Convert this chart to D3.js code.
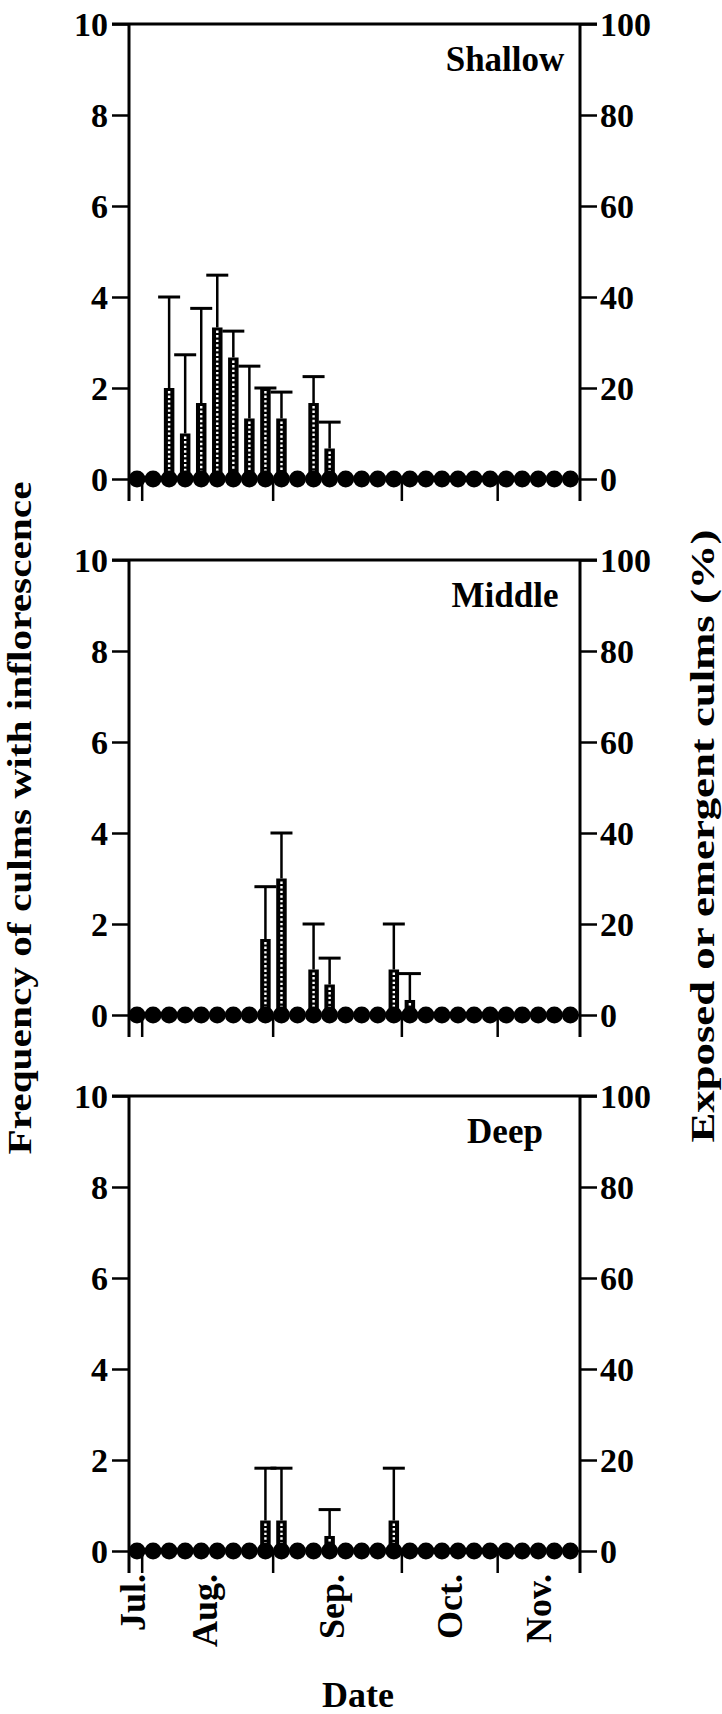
<!DOCTYPE html>
<html>
<head>
<meta charset="utf-8">
<title>inflorescence</title>
<script src="https://cdn.jsdelivr.net/npm/d3@7"></script>
<style>
    body{
        margin:0;
        background:#fff;
    }
    text{
        font-family:"Liberation Serif","Times New Roman",serif;
        font-weight:bold;
        fill:#000;
    }
</style>
</head>
<body>
<div id="chart"></div>
<script type="text/javascript">
    // sampling dates, one dot each
    var sampleIdx = d3.range(28)

    var panelNames = ["Shallow", "Middle", "Deep"]

    // frequency of culms with inflorescence (mean, sd) at sampling index
    var shallowIdx  = [2, 3, 4, 5, 6, 7, 8, 9, 11, 12]
    var shallowMean = [2, 1, 1.67, 3.33, 2.67, 1.33, 2, 1.33, 1.67, 0.67]
    var shallowSd   = [2, 1.73, 2.08, 1.15, 0.58, 1.15, 0, 0.58, 0.58, 0.58]

    var middleIdx  = [8, 9, 11, 12, 16, 17]
    var middleMean = [1.67, 3, 1, 0.67, 1, 0.33]
    var middleSd   = [1.15, 1, 1, 0.58, 1, 0.58]

    var deepIdx  = [8, 9, 12, 16]
    var deepMean = [0.67, 0.67, 0.33, 0.67]
    var deepSd   = [1.15, 1.15, 0.58, 1.15]

    // exposed or emergent culms (%)
    var shallowPct = [0,0,0,0,0,0,0,0,0,0,0,0,0,0,0,0,0,0,0,0,0,0,0,0,0,0,0,0]
    var middlePct  = [0,0,0,0,0,0,0,0,0,0,0,0,0,0,0,0,0,0,0,0,0,0,0,0,0,0,0,0]
    var deepPct    = [0,0,0,0,0,0,0,0,0,0,0,0,0,0,0,0,0,0,0,0,0,0,0,0,0,0,0,0]

    var leftTicks  = [0, 2, 4, 6, 8, 10]
    var rightTicks = [0, 20, 40, 60, 80, 100]

    // month boundaries and month label places, in sampling index units
    var monthBounds   = [0.29, 8.45, 16.47, 22.44]
    var monthLabels   = ["Jul.", "Aug.", "Sep.", "Oct.", "Nov."]
    var monthLabelPos = [0.5, 4.97, 12.87, 20.26, 25.8]

    var panels = [
        {name: panelNames[0], idx: shallowIdx, mean: shallowMean, sd: shallowSd, pct: shallowPct},
        {name: panelNames[1], idx: middleIdx, mean: middleMean, sd: middleSd, pct: middlePct},
        {name: panelNames[2], idx: deepIdx, mean: deepMean, sd: deepSd, pct: deepPct}
    ]

    var w = 722
    var h = 1714
    var left = 129
    var right = 580
    var ph = 455
    var tops = [24, 560, 1096]

    var svg = d3.select("#chart").append("svg")
        .attr("width", w)
        .attr("height", h)

    var x = d3.scaleLinear().domain([-0.5, 27.6]).range([left, right])
    var y = d3.scaleLinear().domain([0, 10]).range([ph, 0])
    var yR = d3.scaleLinear().domain([0, 100]).range([ph, 0])

    panels.forEach(function(p, k){
        var g = svg.append("g").attr("transform", "translate(0," + tops[k] + ")")

        // frame: top line and the two axes running down past zero
        g.append("line").attr("x1", 112).attr("x2", 597).attr("y1", 0).attr("y2", 0)
            .attr("stroke", "#000").attr("stroke-width", 3)
        g.append("line").attr("x1", left).attr("x2", left).attr("y1", 0).attr("y2", ph + 22)
            .attr("stroke", "#000").attr("stroke-width", 3)
        g.append("line").attr("x1", right).attr("x2", right).attr("y1", 0).attr("y2", ph + 22)
            .attr("stroke", "#000").attr("stroke-width", 3)
        g.append("line").attr("x1", left).attr("x2", right).attr("y1", ph).attr("y2", ph)
            .attr("stroke", "#000").attr("stroke-width", 2.5)

        var yAxis = d3.axisLeft(y).tickValues(leftTicks).tickSize(17).tickPadding(4)
        var ga = g.append("g").attr("transform", "translate(" + left + ",0)").call(yAxis)

        var yAxisR = d3.axisRight(yR).tickValues(rightTicks).tickSize(17).tickPadding(3)
        var gr = g.append("g").attr("transform", "translate(" + right + ",0)").call(yAxisR)

        var xAxis = d3.axisBottom(x).tickValues(monthBounds).tickSize(22).tickFormat("")
        var gx = g.append("g").attr("transform", "translate(0," + ph + ")").call(xAxis)

        ;[ga, gr, gx].forEach(function(a){
            a.select(".domain").remove()
            a.selectAll(".tick line").attr("stroke", "#000").attr("stroke-width", 2.5)
            a.selectAll(".tick text").attr("font-size", 34).attr("dy", "0.34em")
                .style("font-family", '"Liberation Serif", serif').style("font-weight", "bold")
        })

        // bars
        var bars = p.idx.map(function(d, i){ return {i: d, m: p.mean[i], s: p.sd[i]} })

        g.selectAll(".err").data(bars).enter().append("line")
            .attr("x1", function(d){ return x(d.i) })
            .attr("x2", function(d){ return x(d.i) })
            .attr("y1", function(d){ return y(d.m) })
            .attr("y2", function(d){ return y(d.m + d.s) })
            .attr("stroke", "#000").attr("stroke-width", 2.5)

        g.selectAll(".cap").data(bars).enter().append("line")
            .attr("x1", function(d){ return x(d.i) - 11 })
            .attr("x2", function(d){ return x(d.i) + 11 })
            .attr("y1", function(d){ return y(d.m + d.s) })
            .attr("y2", function(d){ return y(d.m + d.s) })
            .attr("stroke", "#000").attr("stroke-width", 3)

        g.selectAll(".bar").data(bars).enter().append("rect")
            .attr("x", function(d){ return x(d.i) - 5.25 })
            .attr("width", 10.5)
            .attr("y", function(d){ return y(d.m) })
            .attr("height", function(d){ return y(0) - y(d.m) })
            .attr("fill", "#000")

        g.selectAll(".hatch").data(bars).enter().append("line")
            .attr("x1", function(d){ return x(d.i) })
            .attr("x2", function(d){ return x(d.i) })
            .attr("y1", function(d){ return y(d.m) + 3 })
            .attr("y2", y(0))
            .attr("stroke", "#fff").attr("stroke-width", 2.4)
            .attr("stroke-dasharray", "2.4,2.2")

        // dots on the right axis scale
        g.selectAll(".dot").data(sampleIdx).enter().append("circle")
            .attr("cx", function(d){ return x(d) })
            .attr("cy", function(d){ return yR(p.pct[d]) })
            .attr("r", 8.5)
            .attr("fill", "#000")

        g.append("text").text(p.name)
            .attr("x", 505).attr("y", 47)
            .attr("text-anchor", "middle")
            .attr("font-size", 35)
    })

    // month labels under bottom panel
    svg.selectAll(".month").data(monthLabels).enter().append("text")
        .text(function(d){ return d })
        .attr("transform", function(d, i){ return "translate(" + x(monthLabelPos[i]) + ",1574) rotate(-90)" })
        .attr("text-anchor", "end")
        .attr("font-size", 36)

    svg.append("text").text("Date")
        .attr("x", 358).attr("y", 1707)
        .attr("text-anchor", "middle")
        .attr("font-size", 36)

    svg.append("text").text("Frequency of culms with inflorescence")
        .attr("transform", "translate(31,818) rotate(-90)")
        .attr("text-anchor", "middle")
        .attr("font-size", 34)
        .attr("textLength", 673).attr("lengthAdjust", "spacingAndGlyphs")

    svg.append("text").text("Exposed or emergent culms (%)")
        .attr("transform", "translate(714,836) rotate(-90)")
        .attr("text-anchor", "middle")
        .attr("font-size", 34)
        .attr("textLength", 613).attr("lengthAdjust", "spacingAndGlyphs")
</script>
</body>
</html>
